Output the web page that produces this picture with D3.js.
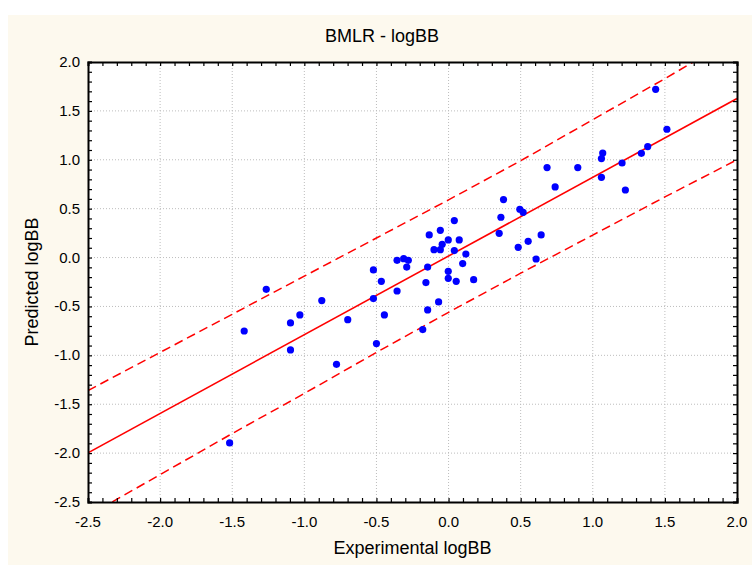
<!DOCTYPE html>
<html lang="en">
  <head>
    <meta charset="utf-8" />
    <title>BMLR - logBB</title>
    <script src="https://d3js.org/d3.v7.js"></script>
    <style>
      body { margin: 0; background: #ffffff; }
      text { font-family: "Liberation Sans", Arial, Sans-Serif; fill: #000; }
    </style>
  </head>
  <body>
    <script>

    // experimental vs predicted logBB
    var expLogBB = [-1.518, -1.417, -1.264, -1.096, -1.096, -1.031, -0.879, -0.777, -0.699, -0.521,
                    -0.521, -0.500, -0.466, -0.445, -0.357, -0.357, -0.311, -0.279, -0.290, -0.179,
                    -0.157, -0.145, -0.145, -0.134, -0.101, -0.069, -0.057, -0.057, -0.044, -0.002,
                    -0.002, -0.002, 0.040, 0.040, 0.053, 0.074, 0.098, 0.120, 0.174, 0.351,
                    0.363, 0.381, 0.483, 0.494, 0.517, 0.552, 0.607, 0.642, 0.683, 0.739,
                    0.896, 1.060, 1.060, 1.069, 1.203, 1.226, 1.337, 1.381, 1.436, 1.514];
    var predLogBB = [-1.896, -0.751, -0.325, -0.669, -0.945, -0.587, -0.440, -1.092, -0.635, -0.127,
                     -0.420, -0.880, -0.243, -0.587, -0.028, -0.342, -0.011, -0.028, -0.097, -0.737,
                     -0.256, -0.097, -0.536, 0.231, 0.081, -0.454, 0.279, 0.081, 0.136, 0.180,
                     -0.141, -0.212, 0.378, 0.071, -0.243, 0.180, -0.062, 0.036, -0.226, 0.248,
                     0.412, 0.593, 0.105, 0.494, 0.463, 0.166, -0.015, 0.231, 0.920, 0.722,
                     0.920, 0.821, 1.012, 1.069, 0.967, 0.691, 1.066, 1.135, 1.721, 1.312];

    // fitted line and 95% band, read at fixed x positions
    var fitX = [-2.5, 2.0];
    var fitY = [-1.997, 1.626];
    var bandX =     [-2.5, -2.0, -1.5, -1.0, -0.5, 0.0, 0.5, 1.0, 1.5, 2.0];
    var bandUpper = [-1.36, -0.97, -0.58, -0.19, 0.20, 0.59, 0.99, 1.41, 1.83, 2.26];
    var bandLower = [-2.64, -2.22, -1.80, -1.39, -0.97, -0.56, -0.16, 0.23, 0.62, 1.00];

    var xTicks = [-2.5, -2.0, -1.5, -1.0, -0.5, 0.0, 0.5, 1.0, 1.5, 2.0];
    var yTicks = [-2.5, -2.0, -1.5, -1.0, -0.5, 0.0, 0.5, 1.0, 1.5, 2.0];

    var w = 752, h = 565;
    var margin = {top: 62, right: 15, bottom: 63, left: 88};
    var innerWidth = w - margin.left - margin.right;
    var innerHeight = h - margin.top - margin.bottom;

    var x = d3.scaleLinear().domain([-2.5, 2.0]).range([0, innerWidth]);
    var y = d3.scaleLinear().domain([-2.5, 2.0]).range([innerHeight, 0]);

    var svg = d3.select("body")
      .append("svg")
        .attr("width", w)
        .attr("height", h);

    // cream panel
    svg.append("rect")
      .attr("x", 8).attr("y", 15)
      .attr("width", w - 8).attr("height", h - 15)
      .attr("fill", "#fdf9ee");

    var g = svg.append("g")
      .attr("transform", `translate(${margin.left},${margin.top})`);

    g.append("rect")
      .attr("width", innerWidth).attr("height", innerHeight)
      .attr("fill", "#ffffff");

    g.append("clipPath").attr("id", "clip")
      .append("rect").attr("width", innerWidth).attr("height", innerHeight);

    // grid
    g.append("g")
      .selectAll("line")
      .data(xTicks.slice(1, -1))
      .join("line")
        .attr("x1", d => x(d)).attr("x2", d => x(d))
        .attr("y1", 0).attr("y2", innerHeight)
        .attr("stroke", "#bdbdbd").attr("stroke-width", 1)
        .attr("stroke-dasharray", "1,2");
    g.append("g")
      .selectAll("line")
      .data(yTicks.slice(1, -1))
      .join("line")
        .attr("x1", 0).attr("x2", innerWidth)
        .attr("y1", d => y(d)).attr("y2", d => y(d))
        .attr("stroke", "#bdbdbd").attr("stroke-width", 1)
        .attr("stroke-dasharray", "1,2");

    var plot = g.append("g").attr("clip-path", "url(#clip)");

    var line = d3.line().x(d => x(d[0])).y(d => y(d[1]));

    plot.append("path")
      .datum(d3.zip(bandX, bandUpper))
      .attr("d", line)
      .attr("fill", "none").attr("stroke", "#ff0000").attr("stroke-width", 1.5)
      .attr("stroke-dasharray", "9,5");
    plot.append("path")
      .datum(d3.zip(bandX, bandLower))
      .attr("d", line)
      .attr("fill", "none").attr("stroke", "#ff0000").attr("stroke-width", 1.5)
      .attr("stroke-dasharray", "9,5");
    plot.append("path")
      .datum(d3.zip(fitX, fitY))
      .attr("d", line)
      .attr("fill", "none").attr("stroke", "#ff0000").attr("stroke-width", 1.6);

    plot.selectAll("circle")
      .data(d3.zip(expLogBB, predLogBB))
      .join("circle")
        .attr("cx", d => x(d[0]))
        .attr("cy", d => y(d[1]))
        .attr("r", 3.6)
        .attr("fill", "#0000ff");

    // axes with inward minor ticks every 0.1
    var minor = d3.range(-25, 21).map(v => v / 10);
    var xAxisB = d3.axisBottom(x).tickValues(minor).tickSize(-4).tickFormat("");
    var xAxisT = d3.axisTop(x).tickValues(minor).tickSize(-4).tickFormat("");
    var yAxisL = d3.axisLeft(y).tickValues(minor).tickSize(-4).tickFormat("");
    var yAxisR = d3.axisRight(y).tickValues(minor).tickSize(-4).tickFormat("");

    function styleAxis(sel) {
      sel.select(".domain").attr("stroke", "#000").attr("stroke-width", 2);
      sel.selectAll(".tick line").attr("stroke", "#000").attr("stroke-width", 1.2);
    }

    g.append("g").attr("transform", `translate(0,${innerHeight})`).call(xAxisB).call(styleAxis);
    g.append("g").call(xAxisT).call(styleAxis);
    g.append("g").call(yAxisL).call(styleAxis);
    g.append("g").attr("transform", `translate(${innerWidth},0)`).call(yAxisR).call(styleAxis);

    // tick labels
    g.append("g")
      .selectAll("text")
      .data(xTicks)
      .join("text")
        .attr("x", d => x(d))
        .attr("y", innerHeight + 25)
        .attr("text-anchor", "middle")
        .style("font-size", "15px")
        .text(d => d.toFixed(1));
    g.append("g")
      .selectAll("text")
      .data(yTicks)
      .join("text")
        .attr("x", -8)
        .attr("y", d => y(d) + 5)
        .attr("text-anchor", "end")
        .style("font-size", "15px")
        .text(d => d.toFixed(1));

    svg.append("text")
      .attr("x", 382).attr("y", 42)
      .attr("text-anchor", "middle")
      .style("font-size", "18px")
      .text("BMLR - logBB");

    svg.append("text")
      .attr("x", margin.left + innerWidth / 2).attr("y", 554)
      .attr("text-anchor", "middle")
      .style("font-size", "18px")
      .text("Experimental logBB");

    svg.append("text")
      .attr("transform", `translate(38,${margin.top + innerHeight / 2}) rotate(-90)`)
      .attr("text-anchor", "middle")
      .style("font-size", "18px")
      .text("Predicted logBB");

    </script>
  </body>
</html>
